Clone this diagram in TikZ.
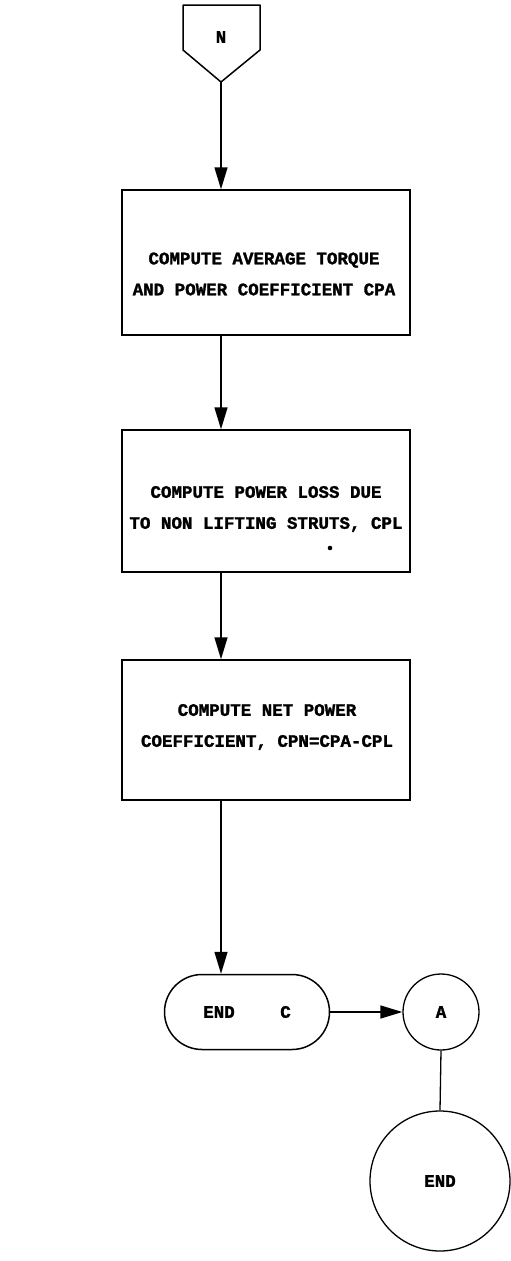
\documentclass[tikz,border=0pt]{standalone}
\usepackage{fontspec}
\newfontfamily\tw[BoldFeatures={FakeBold=1.6}]{Liberation Mono}
\usetikzlibrary{arrows.meta,shapes.misc}
\begin{document}
\begin{tikzpicture}[x=1pt,y=-1pt,
  lbl/.style={font=\tw\bfseries\fontsize{17.5}{31}\selectfont},
  proc/.style={draw,line width=1.5pt,minimum width=288pt,inner sep=0pt},
  txt/.style={lbl,align=center,inner sep=0pt},
  term/.style={lbl,draw,line width=1.5pt,rounded rectangle,minimum width=165pt,minimum height=75pt,inner sep=0pt},
  conn/.style={lbl,draw,line width=1.3pt,circle,inner sep=0pt},
  flow/.style={line width=1.5pt,-{Triangle[width=13pt,length=22pt]}},
  plain/.style={line width=1.3pt}]
\useasboundingbox (0,0) rectangle (511,1261);
% off-page connector N
\coordinate (ntip) at (221,82);
\draw[line width=1.5pt,line join=round] (183,5) -- (260,5) -- (260,50) -- (ntip) -- (183,50) -- cycle;
\node[lbl] (n) at (221,37) {N};
% process boxes
\node[proc,minimum height=145pt] (b1) at (266,262.5) {};
\node[txt] (b1t) at (264,274) {COMPUTE AVERAGE TORQUE\\AND POWER COEFFICIENT CPA};
\node[proc,minimum height=142pt] (b2) at (266,501) {};
\node[txt] (b2t) at (266,509) {COMPUTE POWER LOSS DUE\\TO NON LIFTING STRUTS, CPL};
\node[proc,minimum height=140pt] (b3) at (266,730) {};
\node[txt] (b3t) at (267,727) {COMPUTE NET POWER\\COEFFICIENT, CPN=CPA-CPL};
\fill (330,548) circle (2.3pt);
% terminal and connectors
\node[term] (t) at (247,1012) {END\hspace{2.6em}C};
\node[conn,minimum size=76pt] (a) at (441,1012) {A};
\node[conn,minimum size=140pt] (e) at (440,1181) {END};
% flow lines
\draw[flow] (ntip) -- (ntip |- b1.north);
\draw[flow] (ntip |- b1.south) -- (ntip |- b2.north);
\draw[flow] (ntip |- b2.south) -- (ntip |- b3.north);
\draw[flow] (ntip |- b3.south) -- (ntip |- t.north);
\draw[flow] (t.east) -- (a.west);
\draw[plain] (a.south) -- (e.north);
\end{tikzpicture}
\end{document}
